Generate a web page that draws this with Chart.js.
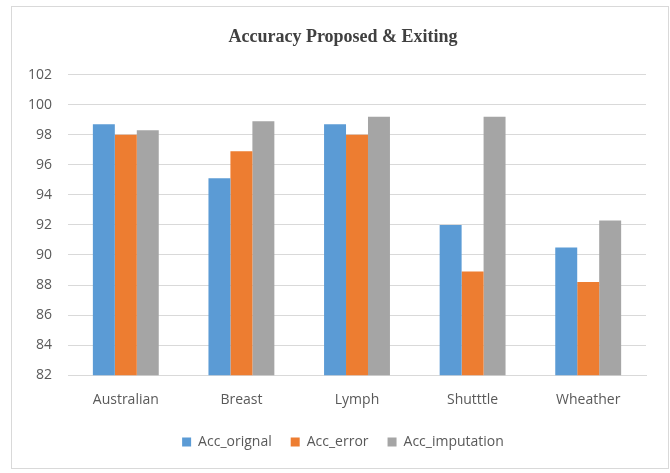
<!DOCTYPE html>
<html lang="en">
<head>
<meta charset="UTF-8">
<title>Accuracy Proposed & Exiting</title>
<script src="https://cdn.jsdelivr.net/npm/chart.js"></script>
<style>
  body { margin: 0; background: #fff; }
  #box {
    position: absolute; left: 11px; top: 6px;
    width: 658px; height: 463px;
    border: 1px solid #d9d9d9; box-sizing: border-box;
  }
</style>
</head>
<body>
<div id="box"><canvas id="myChart"></canvas></div>
<script>
// categorias e valores
const categorias = ['Australian', 'Breast', 'Lymph', 'Shutttle', 'Wheather'];
const accOriginal = [98.7, 95.1, 98.7, 92.0, 90.5];
const accError = [98.0, 96.9, 98.0, 88.9, 88.2];
const accImputation = [98.3, 98.9, 99.2, 99.2, 92.3];
const ticksY = [82, 84, 86, 88, 90, 92, 94, 96, 98, 100, 102];

const fonteEixo = { family: "'Open Sans', sans-serif", size: 14 };

const dados = {
    labels: categorias,
    datasets: [
        { label: 'Acc_orignal', data: accOriginal, backgroundColor: '#5b9bd5' },
        { label: 'Acc_error', data: accError, backgroundColor: '#ed7d31' },
        { label: 'Acc_imputation', data: accImputation, backgroundColor: '#a5a5a5' }
    ]
};

// empurra título e legenda um pouco para a direita, como no original
const deslocaTopo = {
    id: 'deslocaTopo',
    afterLayout(chart) {
        const dx = 14;
        [chart.titleBlock, chart.legend].forEach(function (caixa) {
            if (caixa) {
                caixa.left += dx;
                caixa.right += dx;
            }
        });
    }
};

const opcoes = {
    responsive: true,
    maintainAspectRatio: false,
    animation: false,
    layout: { padding: { left: 0, right: 22, top: 6, bottom: 9 } },
    datasets: { bar: { categoryPercentage: 0.57, barPercentage: 1.0 } },
    plugins: {
        title: {
            display: true,
            text: 'Accuracy Proposed & Exiting',
            color: '#404040',
            font: { family: "'Liberation Serif', serif", size: 18, weight: 'bold' },
            padding: { top: 14, bottom: 26 }
        },
        legend: {
            position: 'bottom',
            labels: {
                color: '#595959',
                font: fonteEixo,
                boxWidth: 9,
                boxHeight: 9,
                padding: 19
            }
        },
        tooltip: { enabled: false }
    },
    scales: {
        x: {
            grid: { display: false },
            border: { color: '#d9d9d9' },
            ticks: { color: '#595959', font: fonteEixo, padding: 8 }
        },
        y: {
            min: 82,
            max: 102,
            afterBuildTicks: function (eixo) {
                eixo.ticks = ticksY.map(v => ({ value: v }));
            },
            grid: { color: '#d9d9d9', drawTicks: false },
            border: { display: false },
            ticks: { color: '#595959', font: fonteEixo, padding: 16 }
        }
    }
};

new Chart(document.getElementById('myChart'), {
    type: 'bar',
    data: dados,
    options: opcoes,
    plugins: [deslocaTopo]
});
</script>
</body>
</html>
